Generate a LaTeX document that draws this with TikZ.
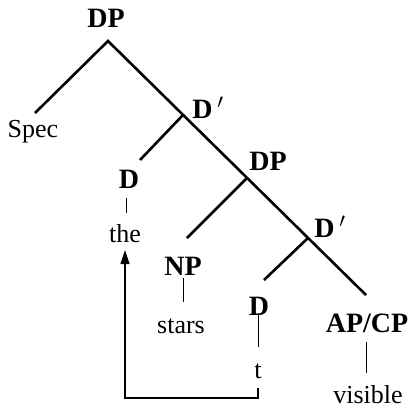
\documentclass[tikz,border=0pt]{standalone}
\usepackage{fontspec}
\setmainfont{Liberation Serif}
\usetikzlibrary{arrows.meta}
\begin{document}
\begin{tikzpicture}[x=1pt,y=-1pt,
  cat/.style={font=\fontsize{28}{32}\selectfont\bfseries, anchor=base, inner sep=0pt},
  word/.style={font=\fontsize{26}{30}\selectfont, anchor=base, inner sep=0pt},
  branch/.style={line width=2.6pt},
  stem/.style={line width=1pt},
  move/.style={line width=1.2pt, -{Triangle[length=14pt,width=9pt]}}]
\useasboundingbox (0,0) rectangle (415,408);

% labels
\node[cat]  (dp1)  at (106,27)  {DP};
\node[word] (spec) at (33,137)  {Spec};
\node[cat]  (db1)  at (208,118) {D\,$'$};
\node[cat]  (d1)   at (129,188) {D};
\node[word] (the)  at (125,242) {the};
\node[cat]  (dp2)  at (268,170) {DP};
\node[cat]  (np)   at (183,275) {NP};
\node[word] (stars)at (181,333) {stars};
\node[cat]  (db2)  at (330,237) {D\,$'$};
\node[cat]  (d2)   at (259,315) {D};
\node[word] (t)    at (258,378) {t};
\node[cat]  (apcp) at (367,332) {AP/CP};
\node[word] (vis)  at (368,403) {visible};

% branching points and branch ends
\coordinate (top)   at (108,41);
\coordinate (specE) at (35,113);
\coordinate (j1)    at (183,115);
\coordinate (d1E)   at (140,160);
\coordinate (j2)    at (247,178);
\coordinate (npE)   at (187,238);
\coordinate (j3)    at (308,238);
\coordinate (d2E)   at (264,280);
\coordinate (apE)   at (366,295);

\draw[branch] (specE) -- (top) -- (apE);
\draw[branch] (j1) -- (d1E);
\draw[branch] (j2) -- (npE);
\draw[branch] (j3) -- (d2E);

% unary stems
\draw[stem] (126,198) -- (126,213);
\draw[stem] (183,278) -- (183,302);
\draw[stem] (258,313) -- (258,347);
\draw[stem] (366,342) -- (366,373);

% movement arrow
\coordinate (tB) at (258,388);
\coordinate (theB) at (125,250);
\draw[move] (tB) -- (258,398) -- (125,398) -- (theB);
\end{tikzpicture}
\end{document}
